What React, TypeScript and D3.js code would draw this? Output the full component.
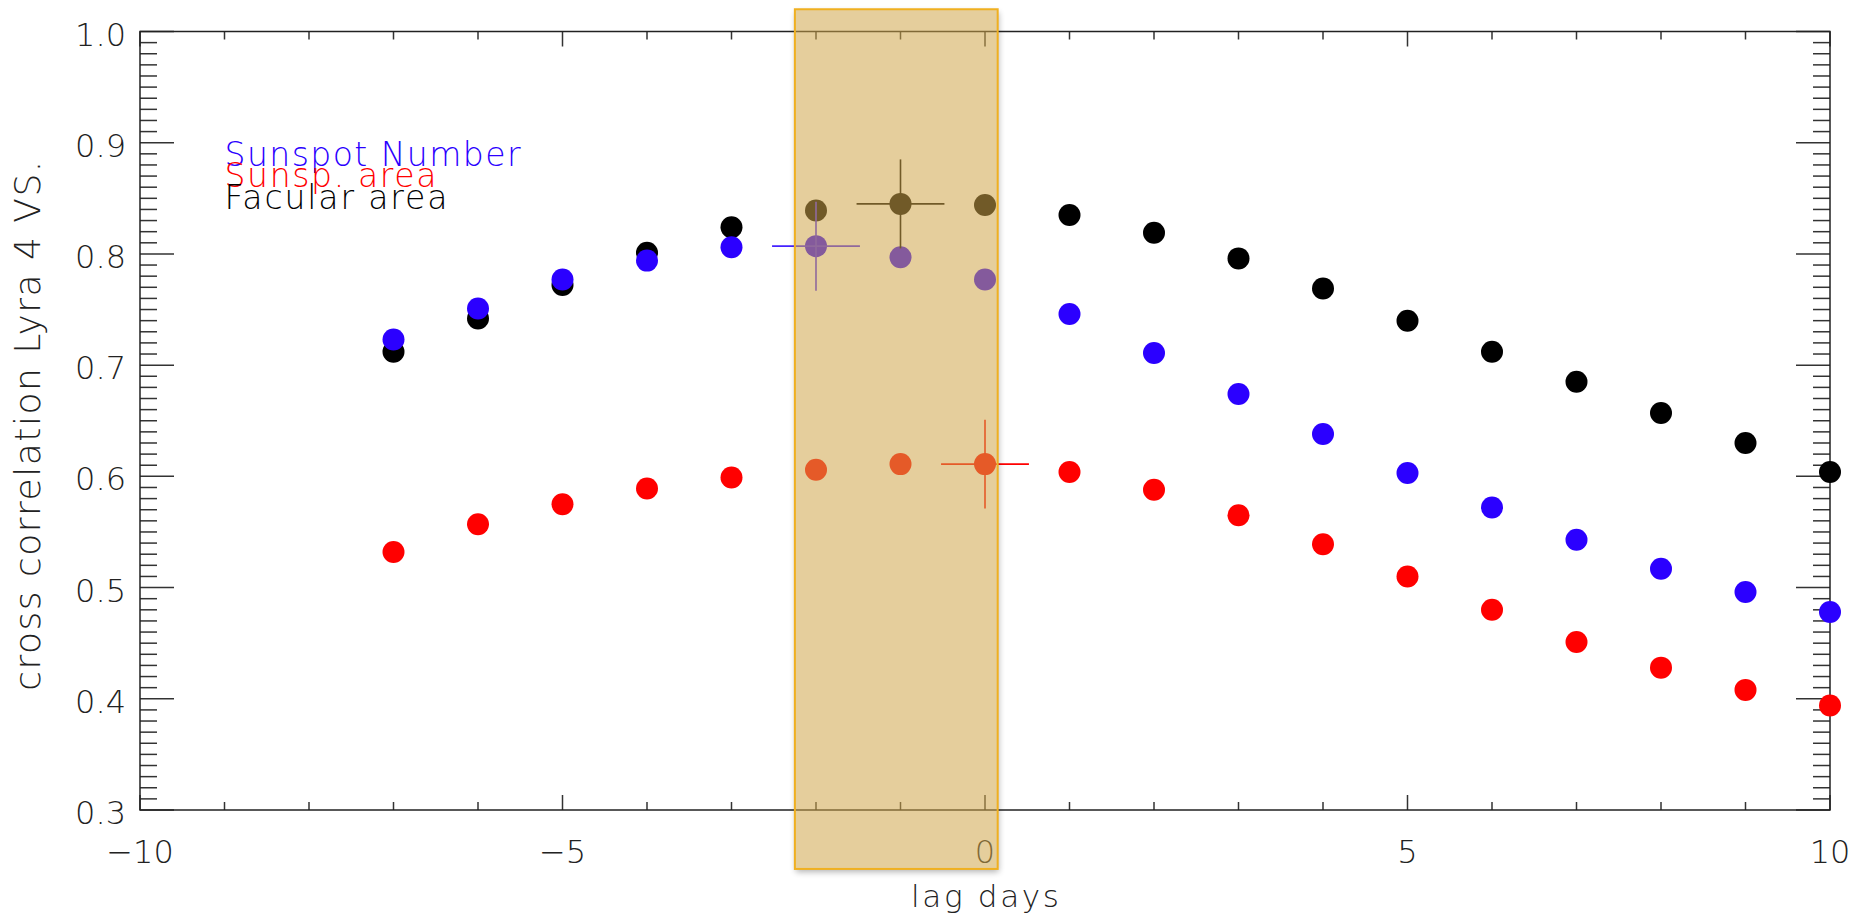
import React from "react";
import * as d3 from "d3";

const lags = [-7, -6, -5, -4, -3, -2, -1, 0, 1, 2, 3, 4, 5, 6, 7, 8, 9, 10];
const facularArea = [0.712, 0.742, 0.772, 0.801, 0.824, 0.839, 0.845, 0.844, 0.835, 0.819, 0.796, 0.769, 0.740, 0.712, 0.685, 0.657, 0.630, 0.604];
const sunspotNumber = [0.723, 0.751, 0.777, 0.794, 0.806, 0.807, 0.797, 0.777, 0.746, 0.711, 0.674, 0.638, 0.603, 0.572, 0.543, 0.517, 0.496, 0.478];
const sunspArea = [0.532, 0.557, 0.575, 0.589, 0.599, 0.606, 0.611, 0.611, 0.604, 0.588, 0.565, 0.539, 0.510, 0.480, 0.451, 0.428, 0.408, 0.394];

const seriesNames = ["Sunspot Number", "Sunsp. area", "Facular area"];
const seriesColors = ["#2b00ff", "#ff0000", "#000000"];
const seriesValues = [sunspotNumber, sunspArea, facularArea];
const legendY = [0.8795, 0.8606, 0.8407];
const legendWidths = [296, 212, 223];

// error bars: series index, lag, x half-width, y half-width
const errSeries = [0, 2, 1];
const errLags = [-2, -1, 0];
const errX = 0.52;
const errY = 0.04;

const xTickLabels = [-10, -5, 0, 5, 10];
const yTickLabels = [0.3, 0.4, 0.5, 0.6, 0.7, 0.8, 0.9, 1.0];

const highlightX = [-2.25, 0.15];
const highlightY = [0.247, 1.02];

const W = 1864;
const H = 920;
const FONT = "'DejaVu Sans', sans-serif";

export default function App() {
  const x = d3.scaleLinear().domain([-10, 10]).range([140, 1830]);
  const y = d3.scaleLinear().domain([0.3, 1.0]).range([810, 31.5]);
  const [x0, x1] = x.range();
  const [yb, yt] = y.range();

  const yMinor = d3.range(0, 71).map((i) => 0.3 + i * 0.01);
  const xMinor = d3.range(-10, 11);

  const bx0 = x(highlightX[0]);
  const bx1 = x(highlightX[1]);
  const by0 = y(highlightY[1]);
  const by1 = y(highlightY[0]);

  const tickColor = "#333";

  return (
    <svg
      width={W}
      height={H}
      style={{ position: "absolute", left: 0, top: 0, background: "#fff" }}
      fontFamily={FONT}
    >
      <defs>
        <filter id="blur" x="-20%" y="-20%" width="140%" height="140%">
          <feGaussianBlur stdDeviation="3" />
        </filter>
        <clipPath id="outside">
          <path
            clipRule="evenodd"
            d={`M0,0H${W}V${H}H0Z M${bx0},${by0}H${bx1}V${by1}H${bx0}Z`}
          />
        </clipPath>
      </defs>

      {/* y minor/major ticks left and right */}
      {yMinor.map((v, i) => {
        const major = i % 10 === 0;
        const len = major ? 34 : 17;
        return (
          <g key={"yt" + i} stroke={tickColor} strokeWidth={1.5}>
            <line x1={x0} x2={x0 + len} y1={y(v)} y2={y(v)} />
            <line x1={x1} x2={x1 - len} y1={y(v)} y2={y(v)} />
          </g>
        );
      })}
      {xMinor.map((v) => {
        const major = v % 5 === 0;
        const len = major ? 15 : 8;
        return (
          <g key={"xt" + v} stroke={tickColor} strokeWidth={1.5}>
            <line x1={x(v)} x2={x(v)} y1={yb} y2={yb - len} />
            <line x1={x(v)} x2={x(v)} y1={yt} y2={yt + len} />
          </g>
        );
      })}
      <rect x={x0} y={yt} width={x1 - x0} height={yb - yt} fill="none" stroke="#222" strokeWidth={1.5} />

      {/* tick labels */}
      {yTickLabels.map((v) => (
        <text key={"yl" + v} x={x0 - 14} y={y(v) + 14} textAnchor="end" fontSize={32} fontWeight={200} fill="#222">
          {v.toFixed(1)}
        </text>
      ))}
      {xTickLabels.map((v) => (
        <text key={"xl" + v} x={x(v)} y={863} textAnchor="middle" fontSize={32} fontWeight={200} fill="#222">
          {v < 0 ? "\u2212" + Math.abs(v) : String(v)}
        </text>
      ))}

      {/* axis titles */}
      <text
        x={(x0 + x1) / 2}
        y={907}
        textAnchor="middle"
        fontSize={31}
        fontWeight={200}
        fill="#222"
        textLength={148}
        lengthAdjust="spacing"
      >
        lag days
      </text>
      <text
        transform={`translate(40,${(yt + yb) / 2 + 5}) rotate(-90)`}
        textAnchor="middle"
        fontSize={36}
        fontWeight={200}
        fill="#222"
        textLength={530}
        lengthAdjust="spacing"
      >
        cross correlation Lyra 4 VS.
      </text>

      {/* legend */}
      {seriesNames.map((n, i) => (
        <text
          key={"lg" + i}
          x={x(-9)}
          y={y(legendY[i])}
          fontSize={33}
          fontWeight={200}
          fill={seriesColors[i]}
          textLength={legendWidths[i]}
          lengthAdjust="spacing"
        >
          {n}
        </text>
      ))}

      {/* points */}
      {[2, 0, 1].map((si) => (
        <g key={"s" + si} fill={seriesColors[si]}>
          {lags.map((l, j) => (
            <circle key={j} cx={x(l)} cy={y(seriesValues[si][j])} r={11} />
          ))}
        </g>
      ))}

      {/* error bars */}
      {errSeries.map((si, k) => {
        const l = errLags[k];
        const v = seriesValues[si][lags.indexOf(l)];
        const c = si === 0 ? "#4422ff" : seriesColors[si];
        return (
          <g key={"e" + k} stroke={c} strokeWidth={1.6}>
            <line x1={x(l - errX)} x2={x(l + errX)} y1={y(v)} y2={y(v)} />
            <line x1={x(l)} x2={x(l)} y1={y(v - errY)} y2={y(v + errY)} />
          </g>
        );
      })}

      {/* highlight box with shadow */}
      <g clipPath="url(#outside)">
        <rect x={bx0 + 1} y={by0 + 3} width={bx1 - bx0} height={by1 - by0} fill="#000" opacity={0.3} filter="url(#blur)" />
      </g>
      <rect
        x={bx0}
        y={by0}
        width={bx1 - bx0}
        height={by1 - by0}
        fill="rgb(207,165,73)"
        fillOpacity={0.545}
        stroke="#f0b020"
        strokeWidth={2}
      />
    </svg>
  );
}
